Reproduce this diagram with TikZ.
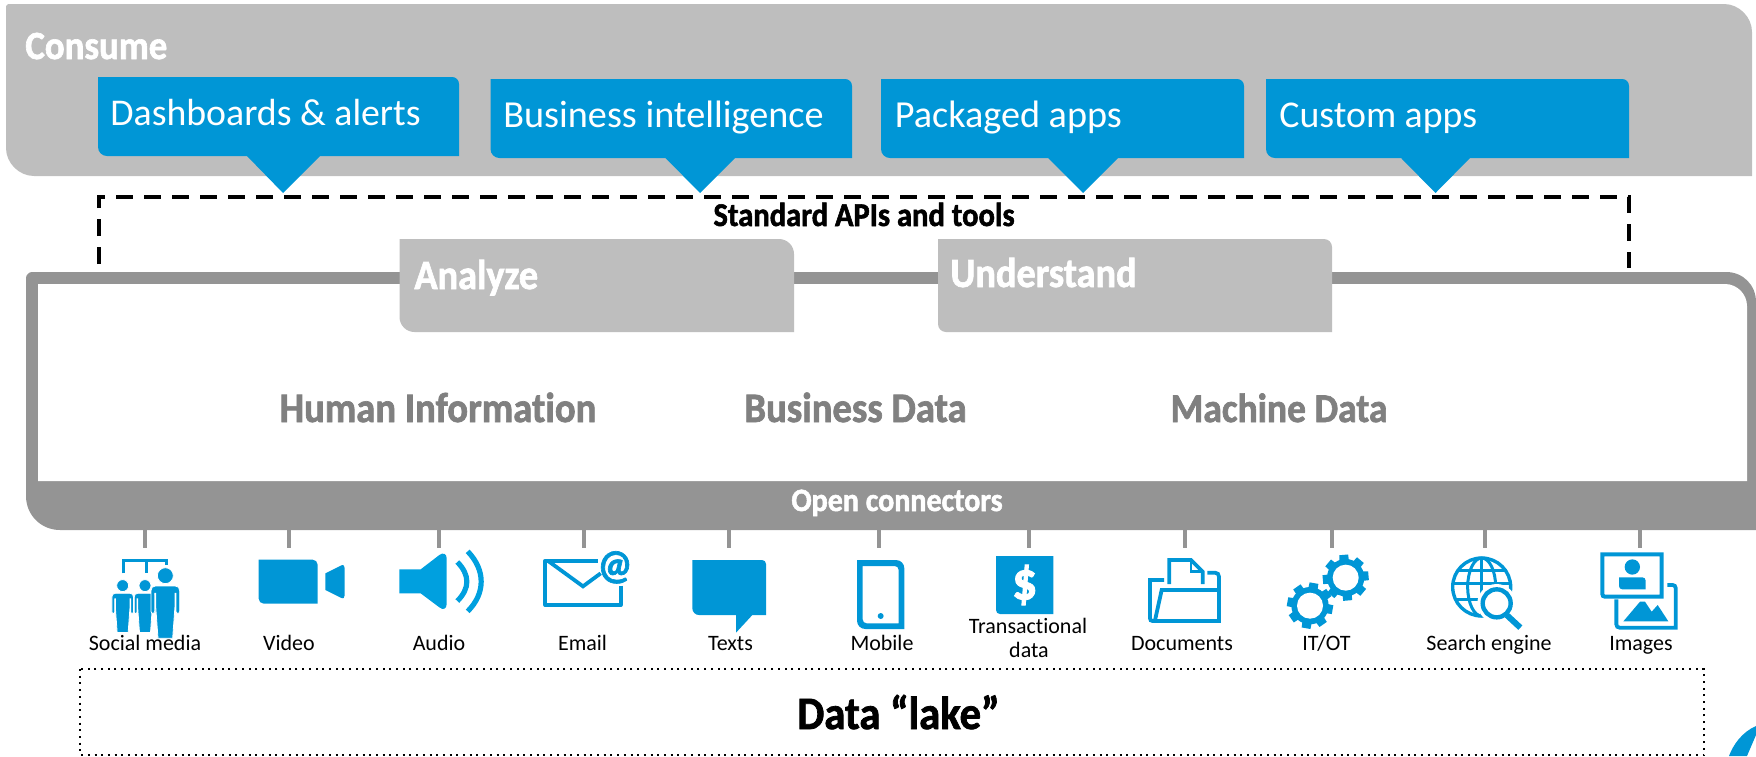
\documentclass[tikz,border=0pt]{standalone}
\usepackage{fontspec}
\setmainfont{Carlito}[Ligatures=NoCommon,BoldFeatures={FakeStretch=0.92,FakeBold=1.6}]
\definecolor{hpblue}{HTML}{0096D6}
\definecolor{audioblue}{HTML}{00A0DF}
\definecolor{lightgrey}{HTML}{BEBEBE}
\definecolor{framegrey}{HTML}{949494}
\definecolor{textgrey}{HTML}{808080}
\newcommand\bluebox[8]{%
 \fill[hpblue] (#1,#3) -- (#2-7,#3) .. controls (#2-3,#3) and (#2,#3+3) .. (#2,#3+7) -- (#2,#4) -- (#7,#4) -- (#6,#8) -- (#5,#4) -- (#1+9,#4) .. controls (#1+4,#4) and (#1,#4-4) .. (#1,#4-9) -- cycle;}
\newcommand\tabbox[5]{%
 \fill[lightgrey] (#1,#3) -- (#2-#5,#3) .. controls (#2-.45*#5,#3) and (#2,#3+.45*#5) .. (#2,#3+#5) -- (#2,#4) -- (#1+#5,#4) .. controls (#1+.45*#5,#4) and (#1,#4-.45*#5) .. (#1,#4-#5) -- cycle;}
\newcommand\personshape[2]{%
 \begin{scope}[shift={(#1,#2)}]
 \fill[hpblue,draw=white,line width=.4pt] (0,-31) circle [radius=24];
 \path[fill=hpblue,draw=white,line width=.4pt] (-43,14) .. controls (-43,5) and (-38,0) .. (-30,0) -- (30,0) .. controls (38,0) and (43,5) .. (43,14) -- (43,76) .. controls (43,84) and (32,84) .. (32,76) -- (32,22) -- (29,22) -- (29,60) -- (22,157) -- (-22,157) -- (-29,60) -- (-29,22) -- (-32,22) -- (-32,76) .. controls (-32,84) and (-43,84) .. (-43,76) -- cycle;
 \end{scope}}
\newcommand\gearshape[4]{%
 \begin{scope}[shift={(#1,#2)}]
 \fill[hpblue] (0,0) circle [radius=56];
 \foreach \a in {0,45,...,315}{\fill[hpblue] (\a+#3-15:54) -- (\a+#3-11:70) -- (\a+#3+11:70) -- (\a+#3+15:54) -- cycle;}
 \fill[white] (0,0) circle [radius=#4];
 \end{scope}}
\tikzset{
 hp/.style={x=0.5pt,y=-0.5pt},
 zoomed/.style={shift={#1},x=0.166667pt,y=-0.166667pt},
 boxtext/.style={anchor=base west,inner sep=0pt,text=white,font=\fontsize{18.9}{21}\selectfont},
 headtext/.style={anchor=base west,inner sep=0pt,text=white,font=\fontsize{20}{22}\selectfont\bfseries},
 tabtext/.style={anchor=base west,inner sep=0pt,text=white,font=\fontsize{20.8}{23}\selectfont\bfseries},
 midtext/.style={anchor=base,inner sep=0pt,text=textgrey,font=\fontsize{21}{24}\selectfont\bfseries},
 smalltext/.style={anchor=base,inner sep=0pt,text=black,font=\fontsize{11}{13}\selectfont},
 dashline/.style={draw=black,line width=2pt,dash pattern=on 8.5pt off 5.5pt},
 tick/.style={draw=framegrey,line width=2pt},
 iconline/.style={draw=hpblue,line width=1.9pt},
}
\begin{document}
\begin{tikzpicture}[hp]
\useasboundingbox (0,0) rectangle (1756,756);
% Consume
\fill[lightgrey] (8,4) -- (1724,4) .. controls (1739,4) and (1752,17) .. (1752,32) -- (1752,176) -- (34,176) .. controls (19,176) and (6,163) .. (6,148) -- (6,6) -- cycle;
\node[headtext] (consume) at (25,59) {Consume};
\bluebox{98}{459}{77}{156}{247}{283}{320}{193}
\bluebox{490.5}{852}{79}{158}{665.5}{700}{735}{193}
\bluebox{881}{1244}{79}{158}{1048}{1083}{1118}{193}
\bluebox{1266}{1629}{79}{158}{1401}{1435.5}{1470}{193}
\node[boxtext] (dash) at (110,125) {Dashboards \& alerts};
\node[boxtext,font=\fontsize{19.1}{21}\selectfont] (bi) at (503,127) {Business intelligence};
\node[boxtext,font=\fontsize{19.1}{21}\selectfont] (pack) at (894.5,127) {Packaged apps};
\node[boxtext] (cust) at (1279,127) {Custom apps};
% dashed bracket
\coordinate (dl) at (99,264);
\coordinate (dtl) at (99,197);
\coordinate (dtr) at (1629,197);
\coordinate (dr) at (1629,268);
\draw[dashline] (dl) -- (dtl) -- (dtr) -- (dr);
\node[anchor=base,inner sep=0pt,font=\fontsize{16.6}{18}\selectfont\bfseries] (apis) at (864,226) {Standard APIs and tools};
% frame
\fill[framegrey] (26,278) .. controls (26,275) and (29,272) .. (32,272) -- (1726,272) .. controls (1743,272) and (1756,285) .. (1756,302) -- (1756,530) -- (60,530) .. controls (41,530) and (26,515) .. (26,496) -- cycle;
\fill[white] (38,284) -- (1725,284) .. controls (1737,284) and (1747,294) .. (1747,306) -- (1747,481) -- (38,481) -- cycle;
\tabbox{399.5}{794}{239}{332}{15}
\tabbox{938}{1332}{239}{332}{8}
\node[tabtext] (ana) at (414,289) {Analyze};
\node[tabtext] (und) at (950,287) {Understand};
\node[midtext] (hum) at (438,422) {Human Information};
\node[midtext] (bus) at (855.5,422) {Business Data};
\node[midtext,font=\fontsize{20.4}{24}\selectfont\bfseries] (mac) at (1279,422) {Machine Data};
\node[anchor=base,inner sep=0pt,text=white,font=\fontsize{16.3}{18}\selectfont\bfseries] (open) at (897,511) {Open connectors};
% ticks
\foreach \n/\x in {1/145,2/289,3/439,4/583.5,5/729,6/879,7/1029,8/1185,9/1332,10/1485,11/1640}{
 \coordinate (ta\n) at (\x,530);
 \coordinate (tb\n) at (\x,548);
 \draw[tick] (ta\n) -- (tb\n);
}
% social media
\begin{scope}[zoomed={(90,540)}]
 \draw[hpblue,line width=1.5pt] (99,100) -- (99,60) -- (228,60) -- (228,76) (168,60) -- (168,100);
 \begin{scope}[shift={(98,160)},scale=.75]\personshape{0}{0}\end{scope}
 \begin{scope}[shift={(165,160)},scale=.75]\personshape{0}{0}\end{scope}
 \personshape{226}{138}
 % video
 \fill[hpblue] (506,59) -- (668,59) .. controls (676,59) and (683,66) .. (683,74) -- (683,191) -- (521,191) .. controls (513,191) and (506,184) .. (506,176) -- cycle;
 \fill[hpblue] (706,100) -- (752,77) .. controls (760,73) and (764,76) .. (764,84) -- (764,166) .. controls (764,174) and (760,177) .. (752,173) -- (706,150) -- cycle;
 % audio
 \fill[audioblue] (928,88) -- (992,88) -- (1048,45) .. controls (1060,36) and (1070,42) .. (1070,55) -- (1070,192) .. controls (1070,206) and (1060,212) .. (1048,202) -- (992,160) -- (928,160) -- cycle;
 \draw[audioblue,line width=2.6pt] (1102,66) .. controls (1140,105) and (1140,145) .. (1102,183);
 \draw[audioblue,line width=2.6pt] (1133,34) .. controls (1187,90) and (1187,160) .. (1133,214);
\end{scope}
\begin{scope}[zoomed={(530,540)}]
 % email
 \draw[iconline,line join=round] (272,137) -- (272,195) -- (46,195) -- (46,62) -- (205,62);
 \draw[iconline] (56,64) -- (159,139) -- (212,100);
 \node[inner sep=0pt,text=hpblue,font=\fontsize{21}{22}\selectfont\bfseries] (at) at (255,82) {@};
 % texts
 \fill[hpblue] (487,60) -- (696,60) .. controls (703,60) and (708,65) .. (708,72) -- (708,225) -- (667,225) -- (618,278) -- (618,225) -- (507,225) .. controls (496,225) and (487,216) .. (487,205) -- cycle;
 % mobile
 \path[fill=hpblue,even odd rule] (981,60) -- (1098,60) .. controls (1112,60) and (1123,71) .. (1123,85) -- (1123,267) -- (1006,267) .. controls (992,267) and (981,256) .. (981,242) -- cycle
   (998,78) -- (1094,78) .. controls (1101,78) and (1106,83) .. (1106,90) -- (1106,250) -- (1010,250) .. controls (1003,250) and (998,245) .. (998,238) -- cycle;
 \fill[hpblue] (1052,228) circle [radius=9];
 % transactional
 \fill[hpblue] (1398,48) -- (1570,48) -- (1570,222) -- (1410,222) .. controls (1403,222) and (1398,217) .. (1398,210) -- cycle;
 \node[inner sep=0pt,text=white,font=\fontsize{27}{28}\selectfont\bfseries] (dollar) at (1484,135) {\$};
\end{scope}
\begin{scope}[zoomed={(1130,540)}]
 % documents
 \draw[iconline] (102,120) -- (60,120) -- (60,235) .. controls (60,240) and (63,243) .. (68,243) -- (267,243) -- (267,110) .. controls (267,103) and (262,98) .. (255,98) -- (232,98);
 \draw[iconline] (75,241) -- (95,150) -- (267,150);
 \draw[iconline] (118,132) -- (118,60) -- (183,60) -- (218,95) -- (218,132);
 \draw[iconline,line width=1.2pt] (183,60) -- (183,95) -- (218,95);
 % gears
 \gearshape{540}{197}{10}{39}
 \gearshape{647}{113}{-5}{39}
 % search
 \begin{scope}[shift={(1055,141)}]
  \draw[hpblue,line width=1.7pt] (0,0) circle [radius=87];
  \draw[hpblue,line width=1.5pt] (0,0) ellipse [x radius=42,y radius=87];
  \draw[hpblue,line width=1.5pt] (0,-87) -- (0,87) (-87,-10) -- (87,-10) (-75,-50) -- (75,-50) (-75,38) -- (75,38);
  \fill[white] (45,49) circle [radius=58];
  \draw[hpblue,line width=2.2pt] (45,49) circle [radius=42];
  \draw[hpblue,line width=3pt] (75,84) -- (116,122);
 \end{scope}
\end{scope}
\begin{scope}[zoomed={(1590,540)}]
 % images
 \draw[iconline] (232,135) -- (248,135) .. controls (253,135) and (257,139) .. (257,144) -- (257,263) -- (89,263) .. controls (83,263) and (79,259) .. (79,253) -- (79,178);
 \draw[iconline,line width=2pt] (37,43) -- (215,43) -- (215,170) -- (45,170) .. controls (40,170) and (37,167) .. (37,162) -- cycle;
 \fill[hpblue] (127,81) circle [radius=23];
 \fill[hpblue] (87,112) -- (157,112) .. controls (163,112) and (167,116) .. (167,122) -- (167,148) -- (97,148) .. controls (91,148) and (87,144) .. (87,138) -- cycle;
 \fill[hpblue] (100,244) -- (150,185) -- (165,185) -- (185,215) -- (203,195) -- (235,244) -- cycle;
\end{scope}
% labels
\node[smalltext] (l1) at (145,650) {Social media};
\node[smalltext] (l2) at (289,650) {Video};
\node[smalltext] (l3) at (439,650) {Audio};
\node[smalltext] (l4) at (582.5,650) {Email};
\node[smalltext] (l5) at (730.5,650) {Texts};
\node[smalltext] (l6) at (882,650) {Mobile};
\node[smalltext] (l7) at (1028,633) {Transactional};
\node[smalltext] (l7b) at (1029,657) {data};
\node[smalltext] (l8) at (1182,650) {Documents};
\node[smalltext] (l9) at (1326.5,650) {IT/OT};
\node[smalltext] (l10) at (1489,650) {Search engine};
\node[smalltext] (l11) at (1641,650) {Images};
% lake
\coordinate (lk1) at (80,669);
\coordinate (lk2) at (1704,755);
\draw[black,line width=1pt,dash pattern=on 1pt off 2.35pt] (lk1) rectangle (lk2);
\node[anchor=base,inner sep=0pt,font=\fontsize{23.2}{25}\selectfont\bfseries] (lake) at (898.5,729) {Data “lake”};
% logo fragment
\fill[hpblue] (1729,756) .. controls (1733,745) and (1742,732) .. (1756,726) -- (1756,735) -- (1747,756) -- cycle;
\end{tikzpicture}
\end{document}
